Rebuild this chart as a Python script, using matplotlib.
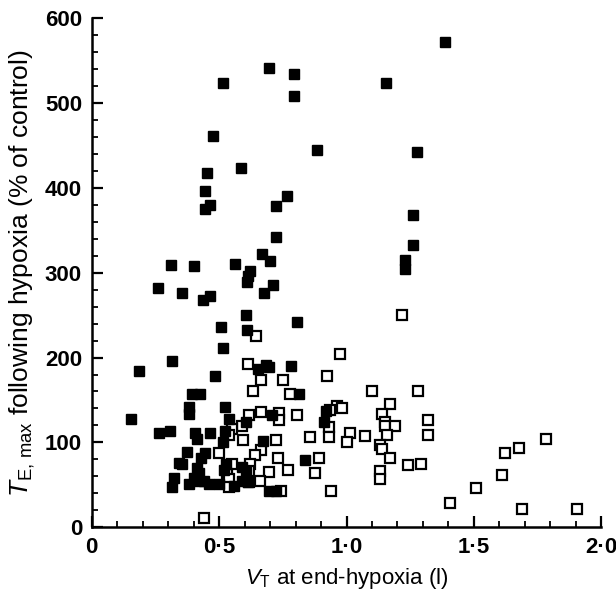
import matplotlib
matplotlib.use('Agg')
import matplotlib.pyplot as plt
from matplotlib.ticker import MultipleLocator, FixedLocator

plt.rcParams['font.family'] = ['Liberation Sans', 'DejaVu Sans']
plt.rcParams['mathtext.fontset'] = 'custom'
plt.rcParams['mathtext.rm'] = 'Liberation Sans'
plt.rcParams['mathtext.it'] = 'Liberation Sans:italic'

# filled squares
filled_x = [1.385, 0.697, 0.795, 0.515, 1.157, 0.795, 0.475, 0.885, 1.277, 0.585, 0.454, 0.445,
            0.765, 0.465, 0.443, 0.723, 1.262, 0.722, 1.262, 0.669, 1.231, 1.231, 0.312, 0.400,
            0.562, 0.700, 0.620, 0.615, 0.610, 0.258, 0.353, 0.437, 0.464, 0.676, 0.711,
            0.604, 0.804, 0.506, 0.610, 0.515, 0.314, 0.186, 0.484, 0.654, 0.682, 0.695, 0.783,
            0.395, 0.424, 0.813, 0.382, 0.382, 0.523, 0.153, 0.539, 0.264, 0.307, 0.405, 0.412,
            0.464, 0.523, 0.515, 0.607, 0.672, 0.708, 0.911, 0.918, 0.839,
            0.373, 0.443, 0.342, 0.356, 0.427, 0.412, 0.421, 0.402, 0.323, 0.314, 0.382, 0.421,
            0.440, 0.460, 0.499, 0.526, 0.519, 0.558, 0.588, 0.614, 0.591, 0.604, 0.695, 0.722]
filled_y = [572, 542, 534, 524, 524, 508, 461, 445, 442, 424, 418, 396,
            391, 380, 375, 379, 368, 342, 333, 322, 315, 305, 309, 308,
            310, 314, 302, 296, 289, 282, 276, 268, 273, 276, 285,
            250, 242, 236, 232, 211, 196, 184, 178, 186, 191, 189, 190,
            157, 157, 157, 142, 133, 142, 127, 127, 111, 114, 111, 104,
            111, 114, 100, 124, 102, 132, 124, 137, 79,
            89, 88, 76, 75, 82, 70, 64, 58, 58, 47, 51, 55,
            55, 51, 51, 75, 67, 49, 55, 53, 71, 66, 43, 43]

# open squares
open_x = [0.643, 0.613, 0.663, 0.752, 0.633, 0.780, 0.663, 0.617, 0.591, 0.735, 0.735, 0.804,
          0.552, 0.539, 0.595, 0.725, 0.499, 0.663, 0.641, 0.732, 0.552, 0.621, 0.529, 0.695,
          0.770, 0.539, 0.539, 0.617, 0.617, 0.660, 0.741, 0.440,
          1.216, 0.974, 0.924, 1.101, 1.280, 1.169, 0.963, 0.983, 0.935, 1.140, 1.151, 1.151,
          1.190, 0.932, 1.319, 1.319, 1.160, 0.855, 0.932, 1.012, 1.071, 1.000, 1.130, 1.140,
          1.169, 0.891, 0.878, 1.130, 1.130, 1.240, 1.292, 0.940, 1.408, 1.509, 1.609, 1.622,
          1.677, 1.785, 1.690, 1.906]
open_y = [226, 192, 174, 174, 160, 157, 136, 132, 119, 135, 126, 132,
          116, 109, 103, 103, 87, 91, 85, 81, 75, 74, 63, 65,
          68, 57, 47, 66, 53, 55, 43, 11,
          250, 204, 178, 160, 160, 145, 143, 141, 138, 134, 124, 119,
          119, 118, 126, 109, 109, 106, 106, 111, 108, 100, 97, 92,
          82, 81, 64, 66, 57, 73, 75, 43, 29, 46, 61, 87,
          93, 104, 21, 22]

xticks = [0, 0.5, 1.0, 1.5, 2.0]
xtick_labels = ['0', '0\u00b75', '1\u00b70', '1\u00b75', '2\u00b70']
yticks = [0, 100, 200, 300, 400, 500, 600]

fig = plt.figure(figsize=(6.16, 5.93), dpi=100)
ax = fig.add_axes([0.149, 0.111, 0.827, 0.858])

ax.plot(open_x, open_y, 's', ms=7, mfc='white', mec='black', mew=1.6, ls='none')
ax.plot(filled_x, filled_y, 's', ms=7.5, mfc='black', mec='black', ls='none')

ax.set_xlim(0, 2.0)
ax.set_ylim(0, 600)
ax.spines['top'].set_visible(False)
ax.spines['right'].set_visible(False)
ax.spines['left'].set_linewidth(1.8)
ax.spines['bottom'].set_linewidth(1.8)

ax.xaxis.set_major_locator(FixedLocator(xticks))
ax.set_xticklabels(xtick_labels)
ax.xaxis.set_minor_locator(MultipleLocator(0.1))
ax.yaxis.set_major_locator(FixedLocator(yticks))
ax.yaxis.set_minor_locator(MultipleLocator(20))
ax.tick_params(which='major', direction='in', length=8, width=1.6, labelsize=16, pad=7)
ax.tick_params(which='minor', direction='in', length=4, width=1.3)
for lab in ax.get_xticklabels() + ax.get_yticklabels():
    lab.set_fontweight('bold')

ax.set_xlabel('$V_\\mathrm{T}$ at end-hypoxia (l)', fontsize=16, labelpad=6)
ax.set_ylabel('$T_\\mathrm{E,\\,max}$ following hypoxia (% of control)', fontsize=19, labelpad=6)

fig.savefig('out.png', dpi=100)
